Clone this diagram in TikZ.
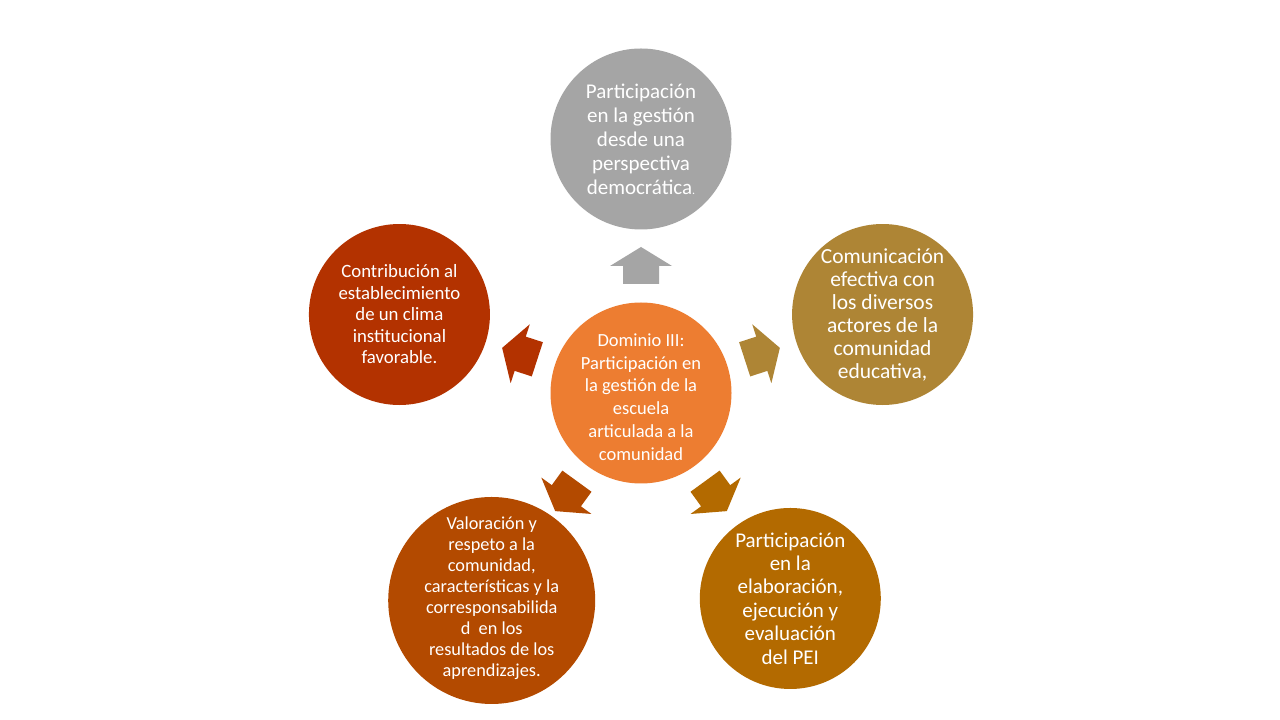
\documentclass[tikz,border=0pt]{standalone}
\usepackage{fontspec}
\setmainfont{Carlito}
\usetikzlibrary{calc}
\definecolor{cgray}{HTML}{A5A5A5}
\definecolor{corange}{HTML}{ED7D31}
\definecolor{cgold}{HTML}{AE8535}
\definecolor{cbrown}{HTML}{B36A00}
\definecolor{crust}{HTML}{B34A00}
\definecolor{cred}{HTML}{B33200}
\tikzset{
  bubble/.style={circle, minimum size=181pt, inner sep=0pt, draw=none},
  btext/.style={text=white, align=center, inner sep=0pt}
}
\newcommand{\blockarrowpath}{(109,-18) -- (127,-18) -- (127,-31) -- (146,0) -- (127,31) -- (127,18) -- (109,18) -- cycle}
\begin{document}
\begin{tikzpicture}[x=1pt,y=1pt]
\fill[white] (0,0) rectangle (1280,720);
\useasboundingbox (0,0) rectangle (1280,720);
\coordinate (C) at (641,327);
% circles
\node[bubble, fill=corange] (center) at (C) {};
\node[bubble, fill=cgray]  (top)   at ($(C)+(90:254)$) {};
\node[bubble, fill=cgold]  (right) at ($(C)+(18:254)$) {};
\node[bubble, fill=cbrown] (bright) at ($(C)+(-54:254)$) {};
\node[bubble, fill=crust, minimum size=207pt]  (bleft) at ($(C)+(-126:254)+(0,-2)$) {};
\node[bubble, fill=cred]   (left)  at ($(C)+(162:254)$) {};
% arrows
\begin{scope}[shift={(C)}, rotate=90]\fill[cgray] \blockarrowpath;\end{scope}
\begin{scope}[shift={(C)}, rotate=18]\fill[cgold] \blockarrowpath;\end{scope}
\begin{scope}[shift={(C)}, rotate=-54]\fill[cbrown] \blockarrowpath;\end{scope}
\begin{scope}[shift={(C)}, rotate=-126]\fill[crust] \blockarrowpath;\end{scope}
\begin{scope}[shift={(C)}, rotate=162]\fill[cred] \blockarrowpath;\end{scope}
% texts
\node[btext, font=\fontsize{18.5}{22.8}\selectfont] (tcenter) at ($(center.center)+(0,-4)$)
  {Dominio III:\\Participación en\\la gestión de la\\escuela\\articulada a la\\comunidad};
\node[btext, font=\fontsize{21}{24}\selectfont] (ttop) at (top.center)
  {Participación\\en la gestión\\desde una\\perspectiva\\democrática{\fontsize{12}{12}\selectfont.}};
\node[btext, font=\fontsize{21.5}{23}\selectfont] (tright) at (right.center)
  {Comunicación\\efectiva con\\los diversos\\actores de la\\comunidad\\educativa,};
\node[btext, font=\fontsize{21}{23.4}\selectfont] (tbright) at (bright.center)
  {Participación\\en la\\elaboración,\\ejecución y\\evaluación\\del PEI};
\node[btext, font=\fontsize{18.3}{21}\selectfont] (tbleft) at ($(C)+(-126:254)$)
  {Valoración y\\respeto a la\\comunidad,\\características y la\\corresponsabilida\\d\ \ en los\\resultados de los\\aprendizajes.};
\node[btext, font=\fontsize{18.8}{21.5}\selectfont] (tleft) at (left.center)
  {Contribución al\\establecimiento\\de un clima\\institucional\\favorable.};
\end{tikzpicture}
\end{document}
